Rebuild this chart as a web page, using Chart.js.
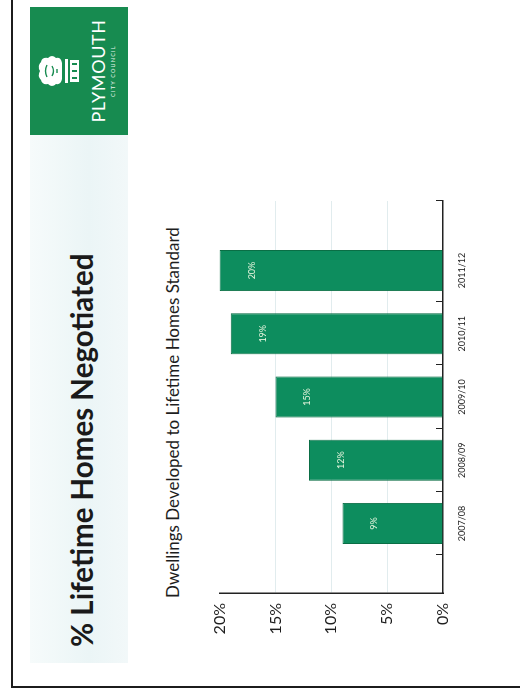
<!DOCTYPE html>
<html>
<head>
<meta charset="utf-8">
<script src="https://cdn.jsdelivr.net/npm/chart.js@4.4.1/dist/chart.umd.min.js"></script>
<style>
  html, body { margin: 0; padding: 0; background: #fff; overflow: hidden; }
  body { width: 520px; height: 696px; position: relative; }
  /* the slide is laid out upright (696 x 520) and then turned a quarter left, like the scan */
  #slide {
    position: absolute; left: 0; top: 0; width: 696px; height: 520px;
    transform-origin: 0 0; transform: translateY(696px) rotate(-90deg);
    background: #fff; font-family: Lato, "Open Sans", sans-serif; color: #1e1e1e;
  }
  #frame {
    position: absolute; left: 8px; top: 11px; width: 686px; height: 520px;
    border-left: 2px solid #1c1c1c; border-top: 2px solid #1c1c1c; border-right: 2px solid #666;
  }
  #band {
    position: absolute; left: 33px; top: 30px; width: 528px; height: 98px;
    background: linear-gradient(to bottom, #f6fbfb, #ebf5f6 60%, #f2f8f9);
  }
  #title {
    position: absolute; left: 49px; top: 62px; font-size: 29.5px; font-weight: 700;
    line-height: 40px; white-space: nowrap; color: #1a1a1a;
  }
  #subtitle {
    position: absolute; left: 98px; top: 162px; font-size: 17px; line-height: 22px;
    white-space: nowrap; color: #1e1e1e;
  }
  #logo {
    position: absolute; left: 561px; top: 30px; width: 128px; height: 98px; background: #178b50;
  }
  #logo svg { position: absolute; left: 45px; top: 7px; }
  #logo .name {
    position: absolute; left: 0; width: 128px; top: 57px; text-align: center;
    color: #fff; font-size: 18px; letter-spacing: 0.6px; font-weight: 400;
  }
  #logo .sub {
    position: absolute; left: 0; width: 128px; top: 80px; text-align: center;
    color: #e8f5ec; font-size: 5.5px; letter-spacing: 1.2px;
  }
  #chartBox { position: absolute; left: 40px; top: 200px; width: 470px; height: 290px; }
</style>
</head>
<body>
<div id="slide">
  <div id="frame"></div>
  <div id="band"></div>
  <div id="logo">
    <svg width="38" height="46" viewBox="0 0 38 46">
      <path d="M10 4 Q14 0 19 3 Q24 0 28 4 Q33 5 32 11 Q36 15 32 19 Q33 24 27 25 L11 25 Q5 24 6 19 Q2 15 6 11 Q5 5 10 4 Z" fill="#fff"/>
      <path d="M13 10 Q19 7 25 10 M14 15 Q19 18 24 15 M17 20 L21 20" stroke="#178b50" stroke-width="1.4" fill="none"/>
      <path d="M7 28 L31 28 L31 31 L7 31 Z M8 33 L30 33 L30 42 L8 42 Z" fill="#fff"/>
      <path d="M12 35 L12 40 M19 35 L19 40 M26 35 L26 40" stroke="#178b50" stroke-width="2"/>
    </svg>
    <div class="name">PLYMOUTH</div>
    <div class="sub">CITY COUNCIL</div>
  </div>
  <div id="title">% Lifetime Homes Negotiated</div>
  <div id="subtitle">Dwellings Developed to Lifetime Homes Standard</div>
  <div id="chartBox"><canvas id="myChart" width="470" height="290"></canvas></div>
</div>

<script>
// data
const seasons = ['2007/08', '2008/09', '2009/10', '2010/11', '2011/12'];
const lifetimeShare = [9, 12, 15, 19, 20];     // % of dwellings
const percentTicks = [0, 5, 10, 15, 20];
// small tick marks along the year axis (category units); the scan has none above 2011/12
const yearAxisMarks = [-0.5, 0.5, 1.5, 2.5, 3.5, 5.1];

const barGreen = '#0d8d5e';

// the bars sit on a linear scale so the axis can run past the first and last year, as in the scan
const points = lifetimeShare.map((v, i) => ({ x: i, y: v }));

// short inside tick marks on the year axis
const yearTicksPlugin = {
  id: 'yearTicks',
  afterDraw(chart) {
    const ctx = chart.ctx;
    const xs = chart.scales.x;
    const bottom = chart.chartArea.bottom;
    ctx.save();
    ctx.strokeStyle = '#222';
    ctx.lineWidth = 1;
    yearAxisMarks.forEach(t => {
      const px = Math.round(xs.getPixelForValue(t)) + 0.5;
      ctx.beginPath();
      ctx.moveTo(px, bottom);
      ctx.lineTo(px, bottom - 7);
      ctx.stroke();
    });
    ctx.restore();
  }
};

// value written inside each bar, a little below its top
const barLabelsPlugin = {
  id: 'barLabels',
  afterDatasetsDraw(chart) {
    const ctx = chart.ctx;
    const meta = chart.getDatasetMeta(0);
    ctx.save();
    ctx.fillStyle = '#e9f6df';
    ctx.font = '9px Lato, sans-serif';
    ctx.textAlign = 'center';
    ctx.textBaseline = 'middle';
    meta.data.forEach((bar, i) => {
      ctx.fillText(lifetimeShare[i] + '%', bar.x, bar.y + 32);
    });
    ctx.restore();
  }
};

const config = {
  type: 'bar',
  data: {
    datasets: [{
      label: 'Lifetime Homes',
      data: points,
      backgroundColor: barGreen,
      borderColor: '#0a6e45',
      borderWidth: 1,
      categoryPercentage: 1,
      barPercentage: 0.65
    }]
  },
  options: {
    responsive: false,
    animation: false,
    layout: { padding: { top: 10, right: 15, left: 0, bottom: 0 } },
    plugins: {
      legend: { display: false },
      tooltip: { enabled: false }
    },
    scales: {
      x: {
        type: 'linear',
        min: -1.1,
        max: 5.1,
        offset: false,
        grid: { display: false, offset: false },
        border: { display: true, color: '#222', width: 1.5 },
        afterBuildTicks: scale => { scale.ticks = seasons.map((s, i) => ({ value: i })); },
        afterFit: scale => { scale.height = 47; },
        ticks: {
          autoSkip: false,
          maxRotation: 0,
          padding: 6,
          color: '#222',
          font: { family: 'Lato', size: 9 },
          callback: v => seasons[v]
        }
      },
      y: {
        min: 0,
        max: 20,
        afterBuildTicks: scale => { scale.ticks = percentTicks.map(v => ({ value: v })); },
        afterFit: scale => { scale.width = 63; },
        grid: {
          drawTicks: false,
          color: ctx => (ctx.tick && (ctx.tick.value === 0 || ctx.tick.value === 20)) ? 'rgba(0,0,0,0)' : 'rgba(170,200,205,0.35)'
        },
        border: { display: true, color: '#222', width: 1.5 },
        ticks: {
          padding: 10,
          color: '#1e1e1e',
          font: { family: 'Lato', size: 16 },
          callback: v => v + '%'
        }
      }
    }
  },
  plugins: [yearTicksPlugin, barLabelsPlugin]
};

new Chart(document.getElementById('myChart'), config);
</script>
</body>
</html>
